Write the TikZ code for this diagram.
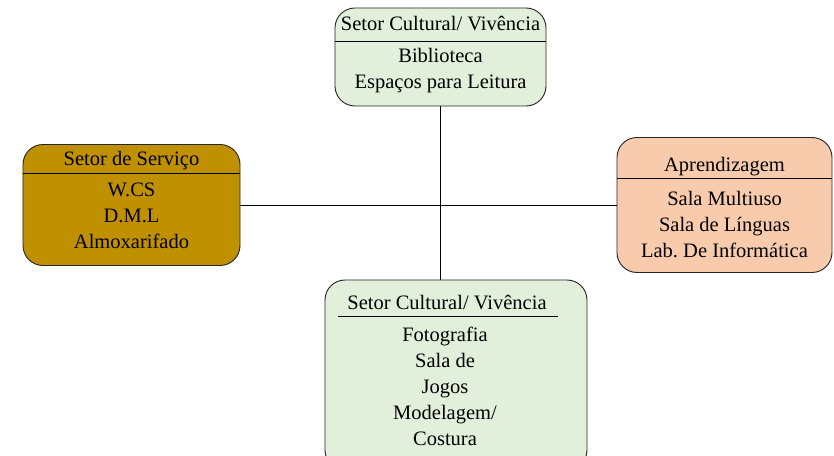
\documentclass[tikz,border=0pt]{standalone}
\usepackage{fontspec}
\setmainfont{Liberation Serif}
\usepackage{xcolor}
\usepackage{tikz}
\definecolor{verdeclaro}{HTML}{E2EFDA}
\definecolor{ouro}{HTML}{BF9000}
\definecolor{salmao}{HTML}{F8CBAD}

\begin{document}
\begin{tikzpicture}[x=0.03cm,y=-0.03cm,
	setor/.style={draw=black!85,line width=0.8pt,rounded corners=0.6cm,inner sep=0pt},
	rotulo/.style={font=\fontsize{17.5}{22.2}\selectfont,align=center,inner sep=0pt}]
		\useasboundingbox (0,0) rectangle (834,456);
		\node[setor,fill=verdeclaro,minimum width=6.33cm,minimum height=2.94cm] (C1) at (440.5,57) {};
		\node[setor,fill=ouro,minimum width=6.51cm,minimum height=3.63cm] (S) at (131.5,205) {};
		\node[setor,fill=salmao,minimum width=6.45cm,minimum height=4.05cm] (A) at (724.5,205) {};
		\node[setor,fill=verdeclaro,minimum width=7.86cm,minimum height=5.7cm] (C2) at (456,375) {};
		%
		\node[rotulo] (C1t) at (440.5,24) {Setor Cultural/ Vivência};
		\node[rotulo] (C1c) at (440.5,71) {Biblioteca\\Espaços para Leitura};
		\node[rotulo] (St) at (131.5,161) {Setor de Serviço};
		\node[rotulo] (Sc) at (131.5,216) {W.CS\\D.M.L\\Almoxarifado};
		\node[rotulo] (At) at (724.5,167) {Aprendizagem};
		\node[rotulo] (Ac) at (724.5,225) {Sala Multiuso\\Sala de Línguas\\Lab.\ De Informática};
		\node[rotulo] (C2t) at (447,303) {Setor Cultural/ Vivência};
		\node[rotulo] (C2c) at (445,386) {Fotografia\\Sala de\\Jogos\\Modelagem/\\Costura};
		%
		\draw[line width=0.8pt] (C1.west |- 0,41) -- (C1.east |- 0,41);
		\draw[line width=0.8pt] (S.west |- 0,173) -- (S.east |- 0,173);
		\draw[line width=0.8pt] (A.west |- 0,178) -- (A.east |- 0,178);
		\draw[line width=0.8pt] (338,316) -- (558,316);
		%
		\path[draw,line width=0.8pt]
		(S) edge (A)
		(C1) edge (C1.south |- C2.north);
\end{tikzpicture}
\end{document}
